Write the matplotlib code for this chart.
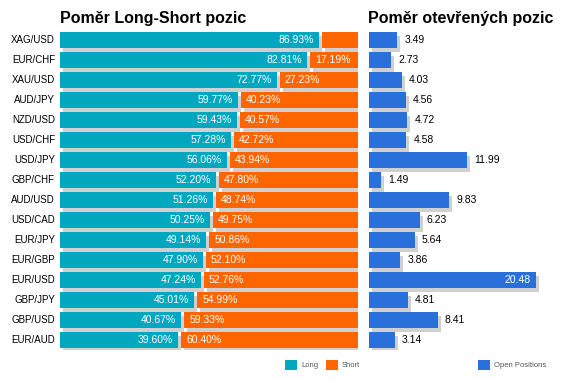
import matplotlib
matplotlib.use("Agg")
import matplotlib.pyplot as plt
from matplotlib.transforms import offset_copy
from matplotlib.patches import Rectangle

plt.rcParams['font.family'] = ['Liberation Sans', 'DejaVu Sans']

pairs = ["XAG/USD", "EUR/CHF", "XAU/USD", "AUD/JPY", "NZD/USD", "USD/CHF", "USD/JPY", "GBP/CHF",
         "AUD/USD", "USD/CAD", "EUR/JPY", "EUR/GBP", "EUR/USD", "GBP/JPY", "GBP/USD", "EUR/AUD"]
long_pct = [86.93, 82.81, 72.77, 59.77, 59.43, 57.28, 56.06, 52.20,
            51.26, 50.25, 49.14, 47.90, 47.24, 45.01, 40.67, 39.60]
short_pct = [13.07, 17.19, 27.23, 40.23, 40.57, 42.72, 43.94, 47.80,
             48.74, 49.75, 50.86, 52.10, 52.76, 54.99, 59.33, 60.40]
open_ratio = [3.49, 2.73, 4.03, 4.56, 4.72, 4.58, 11.99, 1.49,
              9.83, 6.23, 5.64, 3.86, 20.48, 4.81, 8.41, 3.14]

TEAL = "#00A7BF"
ORANGE = "#FF6600"
BLUE = "#2A70DA"
SHADOW = "#D0D0D0"

W, H = 566, 380
fig = plt.figure(figsize=(W / 100, H / 100), dpi=100)

def px_axes(x0, y0, x1, y1):
    return fig.add_axes([x0 / W, 1 - y1 / H, (x1 - x0) / W, (y1 - y0) / H])

n = len(pairs)
ypos = list(range(n))
bh = 0.79

# Left panel
axL = px_axes(60, 30, 358, 350)
axL.set_xlim(0, 100)
axL.set_ylim(n - 0.5, -0.5)
axL.axis('off')
gap = 3 / 298 * 100
shadow_tr = offset_copy(axL.transData, fig=fig, x=3, y=-4, units='dots')
short_left = [l + gap for l in long_pct]
short_w = [s - gap for s in short_pct]
axL.barh(ypos, long_pct, height=bh, color=SHADOW, transform=shadow_tr, zorder=1)
axL.barh(ypos, short_w, left=short_left, height=bh, color=SHADOW, transform=shadow_tr, zorder=1)
axL.barh(ypos, long_pct, height=bh, color=TEAL, zorder=2)
axL.barh(ypos, short_w, left=short_left, height=bh, color=ORANGE, zorder=2)

tr_in = offset_copy(axL.transData, fig=fig, x=-5, y=0, units='dots')
tr_out = offset_copy(axL.transData, fig=fig, x=5, y=0, units='dots')
tr_lab = offset_copy(axL.transData, fig=fig, x=-5, y=0, units='dots')
for i in range(n):
    axL.text(long_pct[i], i, f"{long_pct[i]:.2f}%", transform=tr_in, ha='right', va='center',
             color='white', fontsize=7.5, zorder=3)
    if short_pct[i] >= 15:
        axL.text(short_left[i], i, f"{short_pct[i]:.2f}%", transform=tr_out, ha='left', va='center',
                 color='white', fontsize=7.5, zorder=3)
    axL.text(0, i, pairs[i], transform=tr_lab, ha='right', va='center', color='black', fontsize=7)

# Right panel
scale = 8.15
axR = px_axes(369, 30, 566, 350)
axR.set_xlim(0, 197 / scale)
axR.set_ylim(n - 0.5, -0.5)
axR.axis('off')
shadow_trR = offset_copy(axR.transData, fig=fig, x=3, y=-4, units='dots')
axR.barh(ypos, open_ratio, height=bh, color=SHADOW, transform=shadow_trR, zorder=1)
axR.barh(ypos, open_ratio, height=bh, color=BLUE, zorder=2)
trR_in = offset_copy(axR.transData, fig=fig, x=-5, y=0, units='dots')
trR_out = offset_copy(axR.transData, fig=fig, x=7, y=0, units='dots')
for i in range(n):
    v = open_ratio[i]
    if v > 15:
        axR.text(v, i, f"{v:.2f}", transform=trR_in, ha='right', va='center', color='white',
                 fontsize=7.5, zorder=3)
    else:
        axR.text(v, i, f"{v:.2f}", transform=trR_out, ha='left', va='center', color='black',
                 fontsize=7.5, zorder=3)

# Titles
fig.text(60 / W, 1 - 23 / H, "Poměr Long-Short pozic", fontsize=11.5, fontweight='bold',
         ha='left', va='baseline')
fig.text(368 / W, 1 - 23 / H, "Poměr otevřených pozic", fontsize=11.5, fontweight='bold',
         ha='left', va='baseline')

# Legend
def leg(x0, label, color):
    fig.patches.append(Rectangle((x0 / W, 1 - 370 / H), 12 / W, 10 / H, transform=fig.transFigure,
                                 facecolor=color, edgecolor='none'))
    fig.text((x0 + 16) / W, 1 - 365.5 / H, label, fontsize=5.5, color='#555555', ha='left', va='center')

leg(285, "Long", TEAL)
leg(326, "Short", ORANGE)
leg(478, "Open Positions", BLUE)

fig.savefig("out.png", dpi=100)
